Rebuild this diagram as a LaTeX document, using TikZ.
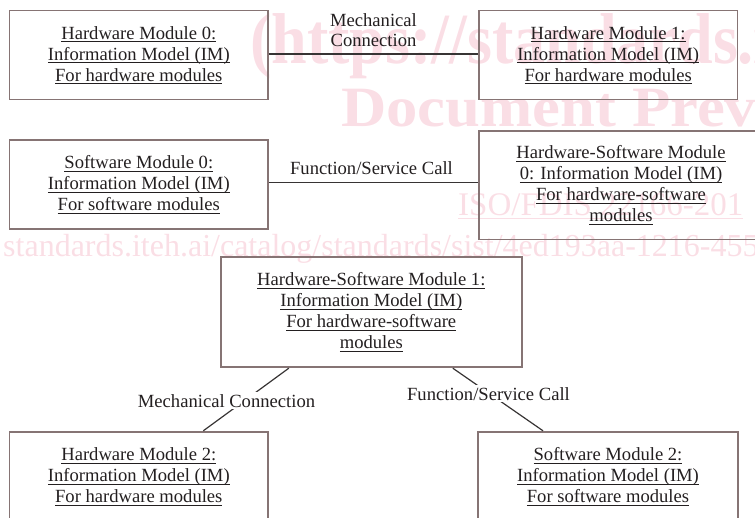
\documentclass[tikz,border=0pt]{standalone}
\usepackage{fontspec}
\usepackage{graphicx}
\setmainfont{Liberation Serif}
\usetikzlibrary{calc}

\definecolor{boxedge}{RGB}{134,116,116}
\definecolor{ink}{RGB}{35,31,32}
\definecolor{wire}{RGB}{55,52,52}
\definecolor{wmark}{RGB}{250,222,229}

% underline a single line of text at a fixed distance below the baseline
\newcommand\ulined[1]{\setbox0\hbox{#1}\rlap{\rule[-2.8pt]{\wd0}{0.9pt}}\box0}

\tikzset{
  module/.style={draw=boxedge, line width=1.8pt, text=ink, align=center,
    inner sep=0pt, font=\fontsize{18.6}{21}\selectfont},
  tag/.style={text=ink, align=center, inner sep=0pt,
    font=\fontsize{18.6}{20.7}\selectfont},
  wirestyle/.style={draw=wire, line width=1.2pt},
  stamp/.style={text=wmark, inner sep=0pt, anchor=base west}
}

\begin{document}
\begin{tikzpicture}[x=1pt,y=-1pt]
\useasboundingbox (0,0) rectangle (755,518);
\clip (0,0) rectangle (755,518);

% background stamp
\node[stamp, font=\bfseries\fontsize{72}{72}\selectfont] (wm1) at (250,64)
  {\scalebox{0.89}[1]{(https://standards.iteh.ai)}};
\node[stamp, font=\bfseries\fontsize{57}{57}\selectfont] (wm2) at (341,127)
  {\scalebox{1.10}[1]{Document Preview}};
\node[stamp, font=\fontsize{33}{33}\selectfont] (wm3) at (458,216)
  {\setbox0\hbox{ISO/FDIS 22166-201}\rlap{\rule[-3pt]{\wd0}{1.1pt}}\box0};
\node[stamp, font=\fontsize{32}{32}\selectfont] (wm4) at (3,257)
  {standards.iteh.ai/catalog/standards/sist/4ed193aa-1216-455};

% modules
\node[module, minimum width=258.5, minimum height=89] (HW0) at (138.8,55)
  {\ulined{Hardware Module 0:}\\\ulined{Information Model (IM)}\\\ulined{For hardware modules}};
\node[module, minimum width=258.5, minimum height=89] (HW1) at (608.2,55)
  {\ulined{Hardware Module 1:}\\\ulined{Information Model (IM)}\\\ulined{For hardware modules}};
\node[module, minimum width=258.5, minimum height=89] (SW0) at (138.8,184.7)
  {\ulined{Software Module 0:}\\\ulined{Information Model (IM)}\\\ulined{For software modules}};
\node[module, minimum width=284, minimum height=108.5] (HWSW0) at (621,185.2)
  {\ulined{Hardware-Software Module}\\\ulined{0: Information Model (IM)}\\\ulined{For hardware-software}\\\ulined{modules}};
\node[module, minimum width=300.7, minimum height=110.6] (HWSW1) at (371.3,312)
  {\ulined{Hardware-Software Module 1:}\\\ulined{Information Model (IM)}\\\ulined{For hardware-software}\\\ulined{modules}};
\node[module, minimum width=258.5, minimum height=90] (HW2) at (138.8,476.7)
  {\ulined{Hardware Module 2:}\\\ulined{Information Model (IM)}\\\ulined{For hardware modules}};
\node[module, minimum width=259.4, minimum height=90] (SW2) at (608,476.7)
  {\ulined{Software Module 2:}\\\ulined{Information Model (IM)}\\\ulined{For software modules}};

% horizontal connections
\draw[wirestyle] ([yshift=1pt]HW0.east) -- ([yshift=1pt]HW0.east -| HW1.west);
\node[tag] (lmech0) at (373.5,30) {Mechanical\\Connection};
\draw[wirestyle] ([yshift=2pt]SW0.east) -- ([yshift=2pt]SW0.east -| HWSW0.west);
\node[tag, anchor=base] (lfunc0) at (371.5,175) {Function/Service Call};

% diagonal connections with labels sitting on them
\draw[wirestyle] ([xshift=-82.5pt]HWSW1.south) -- ([xshift=64.5pt]HW2.north);
\node[tag, anchor=base, fill=white, inner sep=2pt] (lmech1) at (226.5,407) {Mechanical Connection};
\draw[wirestyle] ([xshift=81.5pt]HWSW1.south) -- ([xshift=-65pt]SW2.north);
\node[tag, anchor=base, fill=white, inner sep=2pt] (lfunc1) at (488.5,400) {Function/Service Call};
\end{tikzpicture}
\end{document}
